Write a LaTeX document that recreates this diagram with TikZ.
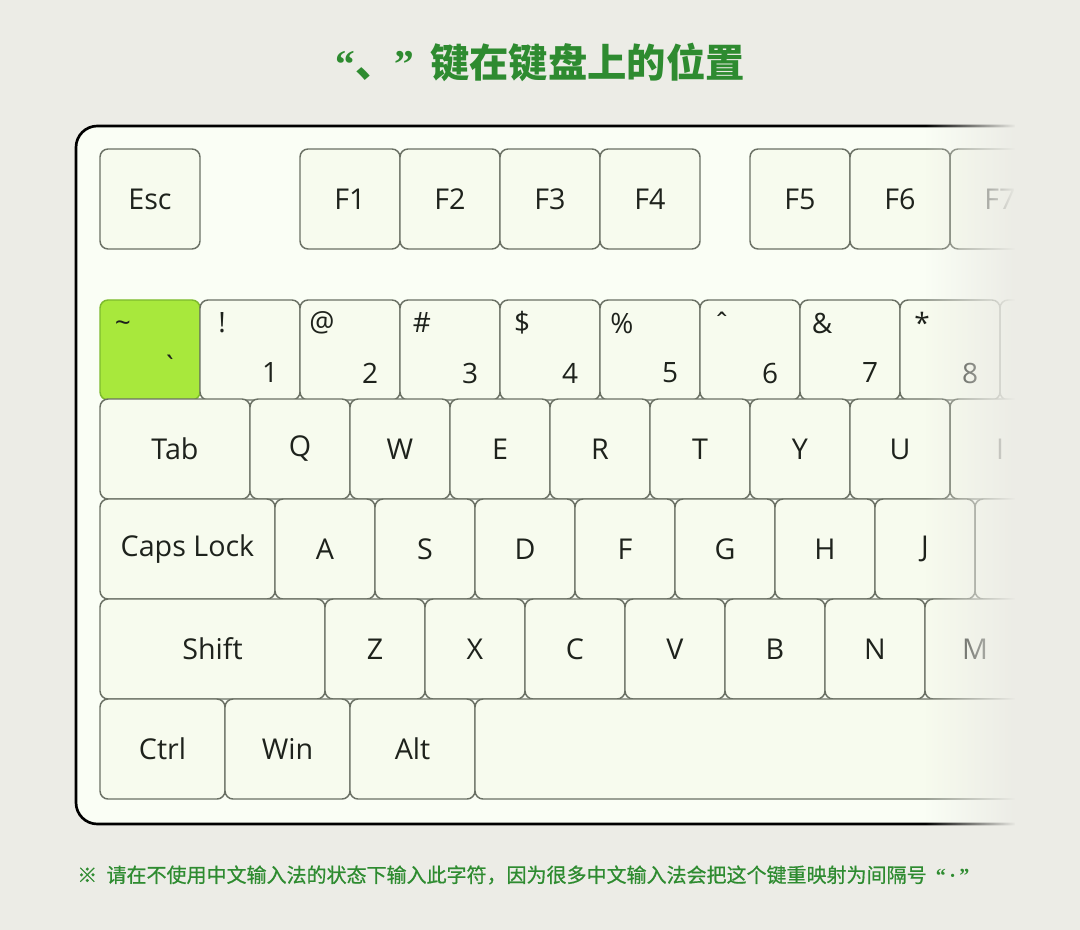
\documentclass[tikz,border=0pt]{standalone}
\usepackage{fontspec}
\setmainfont{Open Sans}
\newfontfamily\cjk{Noto Sans CJK SC}
\newfontfamily\cjknote{Noto Sans CJK SC}[FakeBold=0.7]
\newfontfamily\quotefont{Liberation Serif}
\usetikzlibrary{positioning,fadings}
\definecolor{pageBg}{HTML}{ECECE6}
\definecolor{panelFill}{HTML}{FAFEF5}
\definecolor{keyFill}{HTML}{F7FBEE}
\definecolor{keyEdge}{HTML}{6A7064}
\definecolor{keyText}{HTML}{1E221C}
\definecolor{hotFill}{HTML}{A8E83C}
\definecolor{hotEdge}{HTML}{7DBA2E}
\definecolor{titleGreen}{HTML}{2E8B30}
\tikzfading[name=faderight, left color=transparent!100, right color=transparent!0]
\tikzset{
  keycap/.style={
    draw=keyEdge, fill=keyFill, line width=1.1pt,
    rounded corners=6pt,
    minimum width=#1*0.75pt, minimum height=75pt,
    inner sep=0pt, outer sep=0pt,
    font=\fontsize{21.5}{24}\selectfont, text=keyText,
  },
  keycap/.default=100,
  hotkey/.style={
    keycap, draw=hotEdge, fill=hotFill,
  },
  upsym/.style={
    font=\fontsize{21}{24}\selectfont, text=keyText, inner sep=0pt,
  },
  lowsym/.style={upsym},
}

\begin{document}
\begin{tikzpicture}[x=0.75pt, y=-0.75pt]
  \fill[pageBg] (0,0) rectangle (1080,930);
  \useasboundingbox (0,0) rectangle (1080,930);

  % ─── Title ───────────────────────────────────────────────
  \node[font=\cjk\bfseries\fontsize{29.5}{34}\selectfont, text=titleGreen]
    (title) at (540,62)
    {{\quotefont\bfseries “}、{\quotefont\bfseries ”}\hspace{12pt}键在键盘上的位置};

  % ─── Keyboard panel ──────────────────────────────────────
  \draw[line width=2pt, fill=panelFill, rounded corners=16pt]
    (76,126) rectangle (1120,824);

  % Function row
  \node[keycap] (kEsc) at (150,199) {Esc};
  \foreach \n in {1,...,4}
    \node[keycap] (kF\n) at ({250+100*\n},199) {F\n};
  \foreach \n in {5,6,7}
    \node[keycap] (kF\n) at ({300+100*\n},199) {F\n};

  % Number row (the highlighted key first)
  \node[hotkey] (kGrave) at (150,350) {};
  \node[upsym] at ([shift={(23,27)}]kGrave.north west) {\textasciitilde};
  \node[lowsym] at ([shift={(70,66)}]kGrave.north west) {\textasciigrave};
  \foreach \up/\low [count=\i] in {!/1, @/2, \#/3, \$/4, \%/5,
      ˆ/6, \&/7, */8, {(}/9} {
    \node[keycap] (kNum\low) at ({150+100*\i},350) {};
    \node[upsym] at ([shift={(22,23)}]kNum\low.north west) {\up};
    \node[lowsym] at ([shift={(70,73)}]kNum\low.north west) {\low};
  }

  % Letter rows
  \node[keycap=150] (kTab) at (175,449) {Tab};
  \foreach \c [count=\i] in {Q,W,E,R,T,Y,U,I}
    \node[keycap] (k\c) at ({200+100*\i},449) {\c};

  \node[keycap=175] (kCaps) at (187.5,549) {Caps Lock};
  \foreach \c [count=\i] in {A,S,D,F,G,H,J,K}
    \node[keycap] (k\c) at ({225+100*\i},549) {\c};

  \node[keycap=225] (kShift) at (212.5,649) {Shift};
  \foreach \c [count=\i] in {Z,X,C,V,B,N,M}
    \node[keycap] (k\c) at ({275+100*\i},649) {\c};

  % Bottom row
  \node[keycap=125] (kCtrl) at (162.5,749) {Ctrl};
  \node[keycap=125] (kWin) at (287.5,749) {Win};
  \node[keycap=125] (kAlt) at (412.5,749) {Alt};
  \node[keycap=650] (kSpace) at (800,749) {};

  % Fade the right edge into the page
  \fill[pageBg, path fading=faderight] (925,110) rectangle (1016,840);
  \fill[pageBg] (1015,110) rectangle (1085,840);

  % ─── Note ────────────────────────────────────────────────
  \node[font=\cjknote\fontsize{15}{18}\selectfont, text=titleGreen, anchor=west,
        inner sep=0pt]
    (note) at (77,875)
    {※\hspace{7pt}请在不使用中文输入法的状态下输入此字符，因为很多中文输入法会把这个键重映射为间隔号\hspace{7pt}{\quotefont\bfseries “\,·\,”}};

\end{tikzpicture}
\end{document}
